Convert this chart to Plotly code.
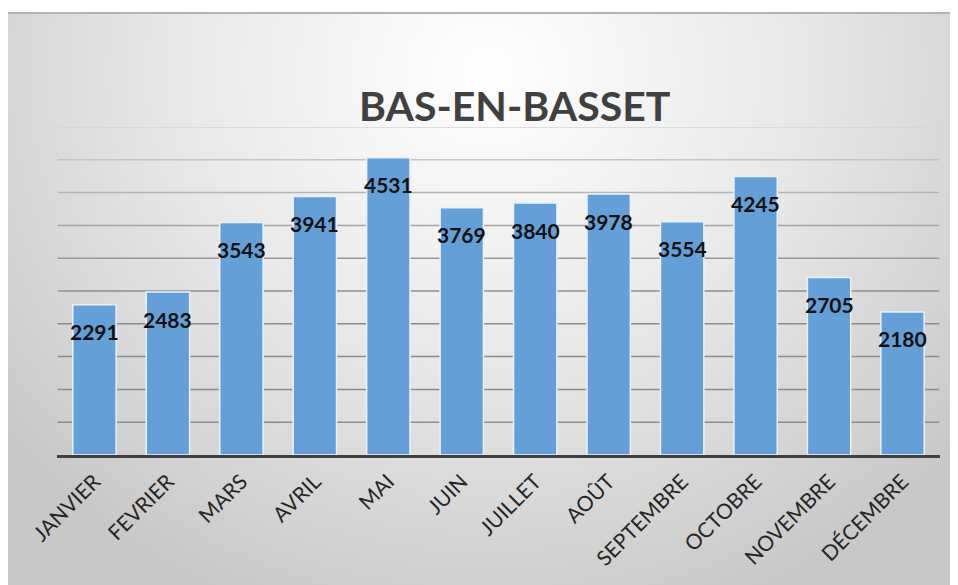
import plotly.graph_objects as go

# données
mois = ['JANVIER', 'FEVRIER', 'MARS', 'AVRIL', 'MAI', 'JUIN', 'JUILLET',
        'AOÛT', 'SEPTEMBRE', 'OCTOBRE', 'NOVEMBRE', 'DÉCEMBRE']
valeurs = [2291, 2483, 3543, 3941, 4531, 3769, 3840, 3978, 3554, 4245, 2705, 2180]
titre = 'BAS-EN-BASSET'

W, H = 958, 585
FONT = 'Lato'
YMAX, PAS = 5000, 500

fig = go.Figure()

# fond dégradé (radial) sur un axe caché qui couvre toute la zone du graphique
fig.add_trace(go.Scatter(
    x=[-0.15, 1.15, 1.15, -0.15, -0.15], y=[-0.1, -0.1, 1.9, 1.9, -0.1],
    mode='lines', line=dict(width=0), fill='toself',
    fillgradient=dict(type='radial', colorscale=[[0, '#ffffff'], [0.5, '#e8e8e8'], [1, '#c8c8c8']]),
    hoverinfo='skip', showlegend=False, xaxis='x', yaxis='y'))

fig.add_trace(go.Bar(
    x=mois, y=valeurs, xaxis='x2', yaxis='y2',
    marker=dict(color='#659fd7', line=dict(color='#e8f2fc', width=1.5)),
    hoverinfo='x+y', showlegend=False))

for m, v in zip(mois, valeurs):
    fig.add_annotation(x=m, y=v, xref='x2', yref='y2', text='<b>%d</b>' % v,
                       showarrow=False, yshift=-27,
                       font=dict(family=FONT, size=21, color='#111111'))

# quadrillage : plus clair en haut (effet de lumière du style Excel)
for g in range(PAS, YMAX + 1, PAS):
    t = g / YMAX
    c = int(140 + 72 * max(0.0, (t - 0.45) / 0.55) ** 1.3)
    fig.add_shape(type='line', xref='x2', yref='y2',
                  x0=mois[0], x1=mois[-1], x0shift=-0.5, x1shift=0.5, y0=g, y1=g,
                  line=dict(color='rgb(%d,%d,%d)' % (c, c, c), width=1.5), layer='below')

# liseré ombré en haut du cadre
fig.add_shape(type='line', xref='x domain', yref='y domain', x0=0, x1=1, y0=1, y1=1,
              line=dict(color='#b4b4b4', width=2))

fig.add_annotation(x=506 / W, y=1 - 98 / H, xref='paper', yref='paper',
                   xanchor='center', yanchor='middle',
                   text='<b>%s</b>' % titre, showarrow=False,
                   font=dict(family=FONT, size=41, color='#404040'))

fig.update_layout(
    width=W, height=H,
    margin=dict(l=0, r=0, t=0, b=0, autoexpand=False),
    paper_bgcolor='white', plot_bgcolor='rgba(0,0,0,0)',
    bargap=0.41,
    xaxis=dict(domain=[0, 1], range=[0, 1], visible=False, fixedrange=True,
               automargin=False),
    yaxis=dict(domain=[0, 1 - 5 / H], range=[0, 1], visible=False, fixedrange=True,
               automargin=False),
    xaxis2=dict(domain=[49 / W, 932 / W], anchor='y2', showgrid=False,
                showline=True, linecolor='#404040', linewidth=3,
                ticks='', tickangle=-45, automargin=False, ticklabelstandoff=3,
                tickfont=dict(family=FONT, size=21, color='#262626')),
    yaxis2=dict(domain=[138 / H, 466 / H], anchor='x2', range=[0, YMAX],
                showgrid=False, automargin=False,
                zeroline=False, showticklabels=False, ticks=''),
)

fig.write_html('out.html')
